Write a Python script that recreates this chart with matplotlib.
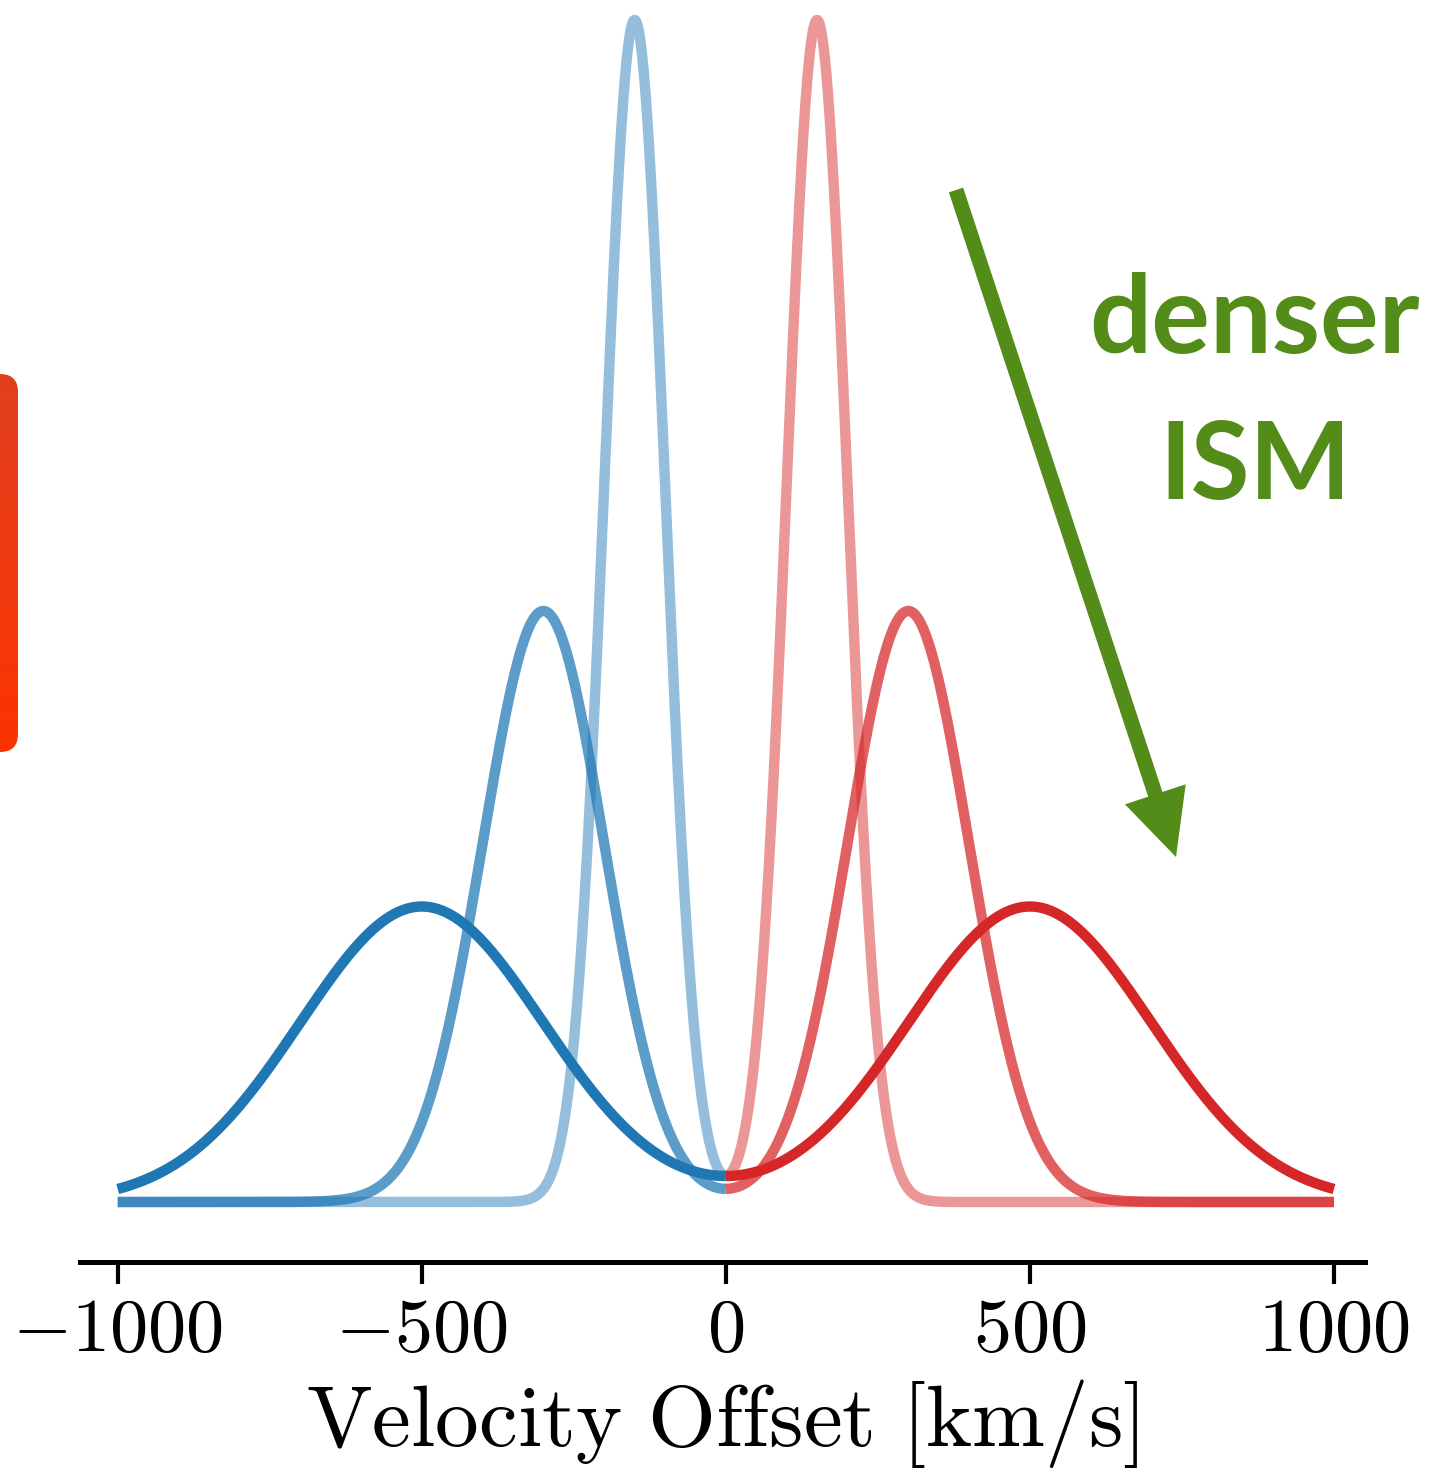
import numpy as np
import matplotlib
matplotlib.use("Agg")
import matplotlib.pyplot as plt
from matplotlib.patches import FancyBboxPatch, FancyArrow

plt.rcParams["mathtext.fontset"] = "cm"
plt.rcParams["font.family"] = ["cmr10", "DejaVu Sans"]

# double-peaked line profiles: peak offset and width of each gaussian component (km/s)
peak_offsets = [150, 300, 500]
peak_widths = [50, 100, 200]
line_alphas = [0.48, 0.73, 1.0]

xticks = [-1000, -500, 0, 500, 1000]
xtick_labels = [r"$-1000$", r"$-500$", r"$0$", r"$500$", r"$1000$"]
xlabel = r"$\mathrm{Velocity\ Offset\ [km/s]}$"

blue = "#1f77b4"
red = "#d62728"
green = "#548c1a"

W, H, DPI = 1436, 1476, 100


def profile(v, v0, sig):
    # sum of a blueshifted and a redshifted gaussian, unit area each
    norm = 1.0 / (sig * np.sqrt(2 * np.pi))
    return norm * (np.exp(-0.5 * ((v + v0) / sig) ** 2) + np.exp(-0.5 * ((v - v0) / sig) ** 2))


fig = plt.figure(figsize=(W / DPI, H / DPI), dpi=DPI)
ax = fig.add_axes([80 / W, (H - 1262) / H, 1285 / W, 1262 / H])

v_blue = np.linspace(-1000, 0, 1001)
v_red = np.linspace(0, 1000, 1001)
for v0, sig, a in zip(peak_offsets, peak_widths, line_alphas):
    ax.plot(v_blue, profile(v_blue, v0, sig), color=blue, alpha=a, lw=7.5,
            solid_capstyle="butt")
    ax.plot(v_red, profile(v_red, v0, sig), color=red, alpha=a, lw=7.5,
            solid_capstyle="butt")

# vertical scale: tallest peak near the top, zero line a bit above the spine
peak = profile(np.array([-peak_offsets[0]]), peak_offsets[0], peak_widths[0])[0]
px = peak / 1182.0
ax.set_ylim(-(1262 - 1202) * px, 1202 * px)
ax.set_xlim(-1062, 1051)

ax.set_xticks(xticks)
ax.set_xticklabels(xtick_labels, fontsize=55)
ax.set_xlabel(xlabel, fontsize=63, labelpad=8)
ax.tick_params(axis="x", length=16, width=3, pad=10)
ax.set_yticks([])
for side in ["left", "right", "top"]:
    ax.spines[side].set_visible(False)
ax.spines["bottom"].set_linewidth(3.6)
ax.patch.set_alpha(0)

# overlay in pixel coordinates for the annotations
ov = fig.add_axes([0, 0, 1, 1])
ov.axis("off")

bar = FancyBboxPatch((-40, 374), 58, 378, boxstyle="round,pad=0,rounding_size=18",
                     facecolor="none", edgecolor="none")
ov.add_patch(bar)
grad = np.linspace(0, 1, 256)[:, None, None]
top_c = np.array([0xe0, 0x40, 0x1f]) / 255
bot_c = np.array([0xfd, 0x33, 0x00]) / 255
img = top_c * (1 - grad) + bot_c * grad
im = ov.imshow(img, extent=[-40, 18, 752, 374], origin="upper", aspect="auto")
im.set_clip_path(bar)

ov.add_patch(FancyArrow(956, 190, 220, 667, width=15, head_width=64, head_length=66,
                        length_includes_head=True, color=green, lw=0))

ov.text(1255, 353, "denser", ha="center", va="baseline", color=green,
        fontsize=79, fontweight="bold", family=["Lato", "DejaVu Sans"])
ov.text(1255, 499, "ISM", ha="center", va="baseline", color=green,
        fontsize=77, fontweight="bold", family=["Lato", "DejaVu Sans"])

ov.set_xlim(0, W)
ov.set_ylim(H, 0)

fig.savefig("out.png", dpi=DPI)
